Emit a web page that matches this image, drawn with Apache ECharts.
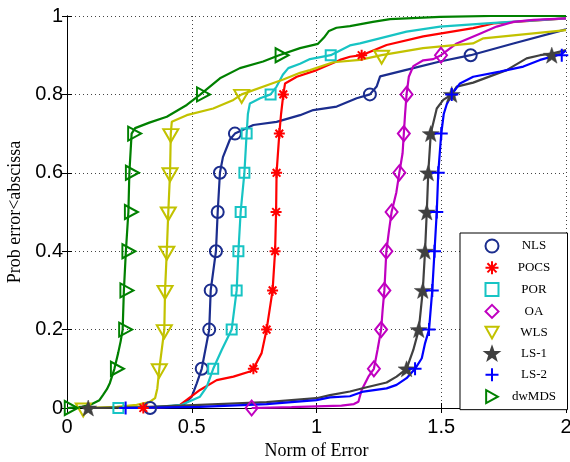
<!DOCTYPE html>
<html>
<head>
<meta charset="utf-8">
<script src="https://cdn.jsdelivr.net/npm/echarts@6/dist/echarts.min.js"></script>
<style>
html,body{margin:0;padding:0;background:#fff;}
#chart{width:570px;height:462px;}
</style>
</head>
<body>
<div id="chart"></div>
<script>
// ---- data ----
const seriesNames = ['NLS', 'POCS', 'POR', 'OA', 'WLS', 'LS-1', 'LS-2', 'dwMDS'];
const markLevels = [0, 0.1, 0.2, 0.3, 0.4, 0.5, 0.6, 0.7, 0.8, 0.9];
const xTicks = [0, 0.5, 1, 1.5, 2];
const yTicks = [0, 0.2, 0.4, 0.6, 0.8, 1];

const nlsCurve = [[0.333,0],[0.42,0.003],[0.47,0.01],[0.5,0.029],[0.52,0.063],[0.54,0.1],[0.57,0.2],[0.576,0.3],[0.597,0.4],[0.604,0.5],[0.613,0.6],[0.625,0.64],[0.653,0.685],[0.673,0.7],[0.747,0.722],[0.84,0.73],[0.934,0.747],[0.987,0.76],[1.081,0.769],[1.161,0.79],[1.214,0.8],[1.241,0.82],[1.255,0.846],[1.388,0.867],[1.495,0.884],[1.618,0.9],[1.789,0.93],[2.0,0.966]];
const nlsMarkX = [0.333,0.54,0.57,0.576,0.597,0.604,0.613,0.673,1.214,1.618];

const pocsCurve = [[0.306,0],[0.4,0.003],[0.453,0.008],[0.533,0.046],[0.6,0.071],[0.667,0.08],[0.733,0.093],[0.747,0.1],[0.78,0.14],[0.8,0.2],[0.824,0.3],[0.834,0.4],[0.838,0.5],[0.84,0.6],[0.851,0.7],[0.858,0.75],[0.867,0.8],[0.874,0.828],[0.921,0.845],[1.001,0.862],[1.094,0.888],[1.134,0.896],[1.181,0.9],[1.281,0.926],[1.428,0.948],[1.628,0.969],[1.709,0.981],[2.0,0.994]];
const pocsMarkX = [0.306,0.747,0.8,0.824,0.834,0.838,0.84,0.851,0.867,1.181];

const porCurve = [[0.206,0],[0.35,0.002],[0.46,0.008],[0.533,0.029],[0.56,0.054],[0.586,0.1],[0.62,0.148],[0.66,0.2],[0.68,0.3],[0.687,0.4],[0.696,0.5],[0.711,0.6],[0.72,0.7],[0.725,0.75],[0.733,0.777],[0.774,0.79],[0.816,0.8],[0.84,0.82],[0.865,0.85],[0.887,0.867],[0.934,0.878],[0.974,0.89],[1.057,0.9],[1.134,0.925],[1.174,0.93],[1.361,0.96],[1.495,0.973],[1.682,0.981],[2.0,0.994]];
const porMarkX = [0.206,0.586,0.66,0.68,0.687,0.696,0.711,0.72,0.816,1.057];

const oaCurve = [[0.74,0],[0.9,0.002],[1.1,0.006],[1.15,0.01],[1.168,0.016],[1.181,0.046],[1.208,0.08],[1.23,0.1],[1.245,0.15],[1.259,0.2],[1.265,0.25],[1.272,0.3],[1.28,0.4],[1.29,0.45],[1.301,0.5],[1.32,0.55],[1.332,0.6],[1.345,0.65],[1.35,0.7],[1.355,0.75],[1.361,0.8],[1.37,0.845],[1.388,0.872],[1.428,0.887],[1.468,0.89],[1.499,0.9],[1.562,0.93],[1.655,0.955],[1.722,0.973],[1.789,0.985],[1.87,0.99],[2.0,0.994]];
const oaMarkX = [0.74,1.23,1.259,1.272,1.28,1.301,1.332,1.35,1.361,1.499];

const wlsCurve = [[0.065,0],[0.2,0.003],[0.279,0.008],[0.33,0.015],[0.353,0.025],[0.362,0.05],[0.37,0.1],[0.39,0.2],[0.393,0.3],[0.4,0.4],[0.406,0.5],[0.413,0.6],[0.416,0.7],[0.42,0.73],[0.48,0.747],[0.586,0.764],[0.667,0.786],[0.7,0.8],[0.827,0.829],[0.867,0.838],[0.934,0.855],[0.974,0.862],[1.067,0.882],[1.174,0.888],[1.261,0.9],[1.427,0.918],[1.627,0.93],[1.669,0.943],[2.0,0.964]];
const wlsMarkX = [0.065,0.37,0.39,0.393,0.4,0.406,0.413,0.416,0.7,1.261];

const ls1Curve = [[0.085,0],[0.3,0.002],[0.533,0.008],[0.8,0.015],[1.0,0.025],[1.054,0.033],[1.134,0.042],[1.201,0.053],[1.281,0.065],[1.321,0.08],[1.361,0.1],[1.388,0.148],[1.41,0.2],[1.426,0.3],[1.435,0.4],[1.442,0.5],[1.448,0.6],[1.458,0.7],[1.482,0.764],[1.508,0.786],[1.542,0.8],[1.562,0.82],[1.628,0.83],[1.762,0.862],[1.842,0.892],[1.896,0.9],[1.943,0.904],[2.0,0.913]];
const ls1MarkX = [0.085,1.361,1.41,1.426,1.435,1.442,1.448,1.458,1.542,1.943];

const ls2Curve = [[0.235,0],[0.533,0.003],[0.8,0.01],[1.0,0.02],[1.054,0.027],[1.134,0.03],[1.188,0.042],[1.281,0.05],[1.321,0.059],[1.361,0.076],[1.395,0.1],[1.422,0.127],[1.435,0.165],[1.451,0.2],[1.464,0.3],[1.473,0.4],[1.482,0.5],[1.488,0.6],[1.5,0.7],[1.51,0.75],[1.522,0.775],[1.542,0.8],[1.575,0.828],[1.628,0.845],[1.735,0.858],[1.829,0.871],[1.896,0.888],[1.983,0.903],[2.0,0.912]];
const ls2MarkX = [0.235,1.395,1.451,1.464,1.473,1.482,1.488,1.5,1.542,1.983];

const dwmdsCurve = [[0,0],[0.06,0.003],[0.1,0.01],[0.13,0.02],[0.144,0.033],[0.16,0.048],[0.172,0.064],[0.19,0.1],[0.205,0.14],[0.215,0.17],[0.223,0.2],[0.228,0.3],[0.236,0.4],[0.246,0.5],[0.25,0.6],[0.259,0.7],[0.273,0.714],[0.33,0.728],[0.4,0.743],[0.48,0.773],[0.535,0.8],[0.613,0.841],[0.693,0.867],[0.786,0.884],[0.85,0.9],[0.934,0.918],[1.006,0.929],[1.03,0.945],[1.05,0.962],[1.08,0.97],[1.134,0.974],[1.226,0.985],[1.295,0.992],[1.495,0.998],[1.7,1.0],[2.0,1.0]];
const dwmdsMarkX = [0.005,0.19,0.223,0.228,0.236,0.246,0.25,0.259,0.535,0.85];

// ---- styles ----
const colors = ['#1b2d8e', '#ff0000', '#17c4c4', '#c000c0', '#c2c200', '#404040', '#0000ff', '#008000'];
const curves = [nlsCurve, pocsCurve, porCurve, oaCurve, wlsCurve, ls1Curve, ls2Curve, dwmdsCurve];
const markXs = [nlsMarkX, pocsMarkX, porMarkX, oaMarkX, wlsMarkX, ls1MarkX, ls2MarkX, dwmdsMarkX];

const STAR = 'path://M0,-1L0.235,-0.324L0.951,-0.309L0.38,0.124L0.588,0.809L0,0.4L-0.588,0.809L-0.38,0.124L-0.951,-0.309L-0.235,-0.324Z';
const markerDefs = [
  {symbol: 'circle', size: 12, hollow: true},
  {symbol: 'path://M0,-1L0,1M-1,0L1,0M-0.7,-0.7L0.7,0.7M-0.7,0.7L0.7,-0.7', size: 11, hollow: false, stroke: true},
  {symbol: 'rect', size: 10, hollow: true},
  {symbol: 'diamond', size: [12, 15], hollow: true},
  {symbol: 'path://M0,0L1,0L0.5,0.9Z', size: [15, 13], hollow: true, offset: [0, 2]},
  {symbol: STAR, size: [17, 16], hollow: false},
  {symbol: 'path://M0,-1L0,1M-1,0L1,0', size: 13, hollow: false, stroke: true},
  {symbol: 'path://M0,0L0.9,0.5L0,1Z', size: [13, 14], hollow: true, offset: [3, 0]}
];

const series = [];
seriesNames.forEach((name, i) => {
  const m = markerDefs[i];
  const c = colors[i];
  series.push({
    name: name,
    type: 'scatter',
    z: 3,
    symbol: m.symbol,
    symbolSize: m.size,
    symbolOffset: m.offset || [0, 0],
    symbolKeepAspect: false,
    itemStyle: {
      color: m.hollow ? 'rgba(255,255,255,0)' : c,
      borderColor: c,
      borderWidth: (m.hollow || m.stroke) ? 2 : 0.5,
      opacity: 1
    },
    emphasis: {disabled: true},
    data: markXs[i].map((x, k) => [x, markLevels[k]])
  });
});
seriesNames.forEach((name, i) => {
  series.push({
    name: name,
    type: 'line',
    z: 2,
    symbol: 'none',
    showSymbol: false,
    lineStyle: {color: colors[i], width: 2.2},
    itemStyle: {color: colors[i]},
    emphasis: {disabled: true},
    data: curves[i]
  });
});

const tickFont = {fontFamily: '"Liberation Sans", Arial, sans-serif', fontSize: 20, color: '#000'};
const nameFont = {fontFamily: '"Liberation Serif", "Times New Roman", serif', fontSize: 18, color: '#000'};
const axisLine = {show: true, lineStyle: {color: '#000', width: 1}};
const axisTick = {show: true, inside: true, length: 5, lineStyle: {color: '#000', width: 1}};
const splitLine = {show: true, lineStyle: {color: '#444', width: 1, type: [1, 3]}};

const option = {
  animation: false,
  backgroundColor: '#fff',
  grid: {left: 67, right: 4, top: 16, bottom: 54, containLabel: false, outerBoundsMode: 'none'},
  legend: {
    data: seriesNames,
    orient: 'vertical',
    left: 460,
    top: 233,
    padding: [5.5, 3, 5.5, 24.5],
    itemWidth: 13,
    itemHeight: 13,
    itemGap: 6.8,
    symbolKeepAspect: true,
    backgroundColor: '#fff',
    borderColor: '#000',
    borderWidth: 1,
    borderRadius: 0,
    selectedMode: false,
    formatter: function (n) { return '{t|' + n + '}'; },
    textStyle: {
      lineHeight: 13,
      rich: {
        t: {width: 61, height: 13, lineHeight: 13, align: 'center', fontFamily: '"Liberation Serif", "Times New Roman", serif', fontSize: 13, color: '#000'}
      }
    }
  },
  xAxis: [{
    type: 'value', min: xTicks[0], max: xTicks[xTicks.length - 1], interval: 0.5,
    position: 'bottom',
    name: 'Norm of Error', nameLocation: 'middle', nameGap: 27, nameTextStyle: nameFont,
    axisLine: axisLine, axisTick: axisTick, splitLine: splitLine,
    axisLabel: Object.assign({margin: 9}, tickFont)
  }, {
    type: 'value', min: xTicks[0], max: xTicks[xTicks.length - 1], interval: 0.5,
    position: 'top',
    axisLine: axisLine, axisTick: axisTick, splitLine: {show: false},
    axisLabel: {show: false}
  }],
  yAxis: [{
    type: 'value', min: yTicks[0], max: yTicks[yTicks.length - 1], interval: 0.2,
    position: 'left',
    name: 'Prob error<abscissa', nameLocation: 'middle', nameGap: 40, nameTextStyle: nameFont,
    axisLine: axisLine, axisTick: axisTick, splitLine: splitLine,
    axisLabel: Object.assign({margin: 4}, tickFont)
  }, {
    type: 'value', min: yTicks[0], max: yTicks[yTicks.length - 1], interval: 0.2,
    position: 'right',
    axisLine: axisLine, axisTick: axisTick, splitLine: {show: false},
    axisLabel: {show: false}
  }],
  series: series
};

const chart = echarts.init(document.getElementById('chart'), null, {renderer: 'canvas'});
chart.setOption(option);
</script>
</body>
</html>
